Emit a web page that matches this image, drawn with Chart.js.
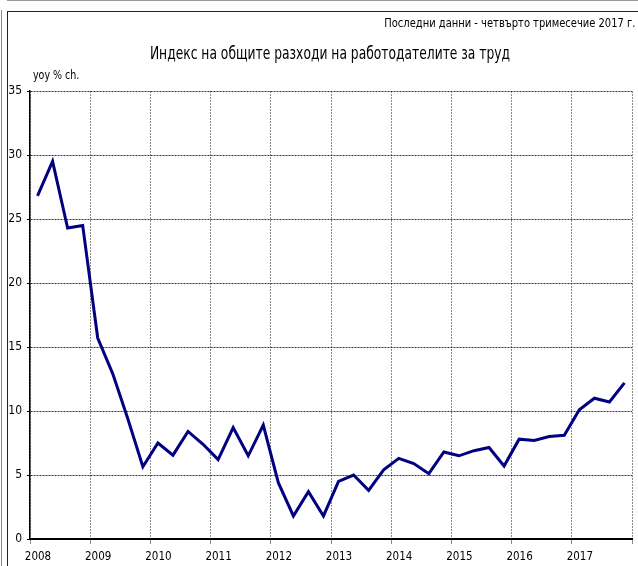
<!DOCTYPE html>
<html>
<head>
<meta charset="utf-8">
<script src="https://cdn.jsdelivr.net/npm/chart.js@4/dist/chart.umd.min.js"></script>
<style>
    body { margin: 0; background: #fff; }
    #wrap { position: relative; width: 638px; height: 566px; overflow: hidden;
            font-family: 'Liberation Sans Narrow', 'DejaVu Sans Condensed', sans-serif; color: #000; }
    #grafico { position: absolute; left: 0; top: 0; }
    .ln { position: absolute; }
    .txt { position: absolute; white-space: nowrap; }
</style>
</head>
<body>
<div id="wrap">
    <canvas id="grafico" width="638" height="566"></canvas>
    <!-- frame lines -->
    <div class="ln" style="left:7px;top:0;width:631px;height:1px;background:#999;"></div>
    <div class="ln" style="left:1px;top:10px;width:1px;height:556px;background:#888;"></div>
    <div class="ln" style="left:7px;top:11px;width:631px;height:1px;background:#222;"></div>
    <div class="ln" style="left:7px;top:11px;width:1px;height:555px;background:#222;"></div>
    <!-- texts -->
    <div class="txt" style="right:3px;top:15px;font-size:13px;line-height:16px;transform:scaleX(0.85);transform-origin:right center;">Последни данни - четвърто тримесечие 2017 г.</div>
    <div class="txt" style="left:0;width:660px;text-align:center;top:43px;font-size:18px;line-height:20px;transform:scaleX(0.76);transform-origin:330px center;">Индекс на общите разходи на работодателите за труд</div>
    <div class="txt" style="left:33px;top:68px;font-size:12px;line-height:15px;transform:scaleX(0.88);transform-origin:left center;">yoy % ch.</div>
</div>
<script>
// quarterly data, 2008 Q1 .. 2017 Q4
const years = [2008, 2009, 2010, 2011, 2012, 2013, 2014, 2015, 2016, 2017];
const quarters = [1, 2, 3, 4];
const values = [
    26.8, 29.5, 24.3, 24.5,   // 2008
    15.7, 12.9, 9.4, 5.65,    // 2009
    7.5, 6.55, 8.4, 7.4,      // 2010
    6.2, 8.7, 6.5, 8.9,       // 2011
    4.4, 1.8, 3.7, 1.8,       // 2012
    4.5, 5.0, 3.8, 5.4,       // 2013
    6.3, 5.9, 5.1, 6.8,       // 2014
    6.5, 6.9, 7.15, 5.7,      // 2015
    7.8, 7.7, 8.0, 8.1,       // 2016
    10.1, 11.0, 10.7, 12.2    // 2017
];
const xTickLabels = ['2008', '2009', '2010', '2011', '2012', '2013', '2014', '2015', '2016', '2017', ''];
const yTickLabels = ['0', '5', '10', '15', '20', '25', '30', '35'];

// each quarter sits in the middle of its slot inside the year
let puntos = [];
years.forEach((anio, i) => {
    quarters.forEach((q, j) => {
        puntos.push({ x: anio + (q - 0.5) / 4, y: values[i * 4 + j] });
    });
});

const fuente = "'Liberation Sans Narrow', 'DejaVu Sans Condensed', sans-serif";

var ctx = document.getElementById('grafico').getContext('2d');

var myChart = new Chart(ctx, {
    type: 'line',
    data: {
        datasets: [{
            data: puntos,
            borderColor: '#000080',
            borderWidth: 3,
            pointRadius: 0,
            tension: 0,
            fill: false
        }]
    },
    options: {
        responsive: false,
        animation: false,
        layout: { padding: { top: 91, right: 5, left: 0, bottom: 0 } },
        plugins: {
            legend: { display: false },
            tooltip: { enabled: false }
        },
        scales: {
            x: {
                type: 'linear',
                min: years[0],
                max: years[years.length - 1] + 1,
                afterFit: (s) => { s.height = 27; },
                ticks: {
                    stepSize: 1,
                    autoSkip: false,
                    maxRotation: 0,
                    labelOffset: 8,
                    padding: 6,
                    color: '#000',
                    font: { family: fuente, size: 11.5 },
                    callback: (v, i) => xTickLabels[i] ?? ''
                },
                grid: {
                    color: '#8a8a8a',
                    lineWidth: 1,
                    tickLength: 5,
                    tickColor: '#8a8a8a'
                },
                border: { display: true, color: '#000', width: 2, dash: [2, 1] }
            },
            y: {
                min: 0,
                max: 35,
                afterFit: (s) => { s.width = 30; },
                ticks: {
                    stepSize: 5,
                    padding: 5,
                    color: '#000',
                    font: { family: fuente, size: 12 },
                    callback: (v, i) => yTickLabels[i] ?? ''
                },
                grid: {
                    color: '#333',
                    lineWidth: 1,
                    tickLength: 3,
                    tickColor: '#000',
                    tickBorderDash: []
                },
                border: { display: true, color: '#000', width: 1.5, dash: [2, 1] }
            }
        }
    }
});
</script>
</body>
</html>
